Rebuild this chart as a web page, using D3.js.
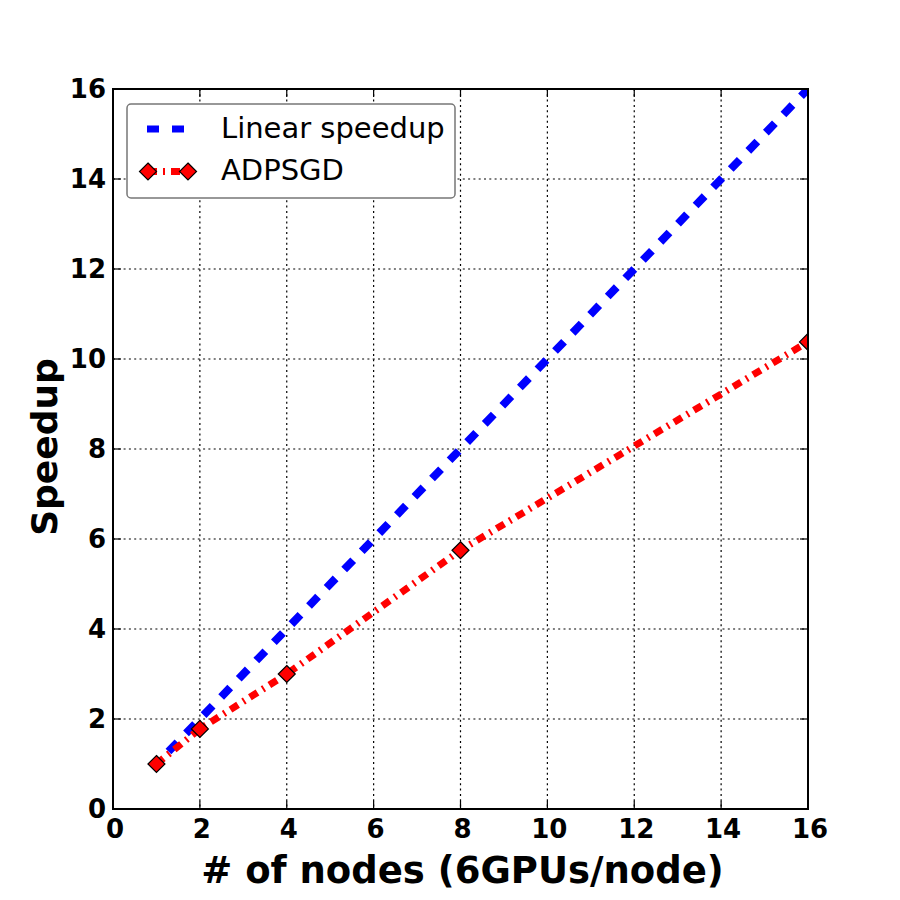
<!DOCTYPE html>
<html>
<head>
<meta charset="utf-8">
<script src="https://cdn.jsdelivr.net/npm/d3@7"></script>
<style>
  body { margin: 0; background: #fff; }
  svg { font-family: "DejaVu Sans", sans-serif; }
</style>
</head>
<body>
<div id="chart"></div>
<script>
// values
const nodes = [1, 2, 4, 8, 16]
const linearSpeedup = [1, 2, 4, 8, 16]
const adpsgd = [1, 1.78, 3.0, 5.75, 10.38]
const xTicks = [0, 2, 4, 6, 8, 10, 12, 14, 16]
const yTicks = [0, 2, 4, 6, 8, 10, 12, 14, 16]

const width = 900, height = 900
const margin = { left: 113, right: 92, top: 89, bottom: 91 }
const w = width - margin.left - margin.right
const h = height - margin.top - margin.bottom

const svg = d3.select("#chart").append("svg")
    .attr("width", width)
    .attr("height", height)

const view = svg.append("g")
    .attr("transform", "translate(" + margin.left + "," + margin.top + ")")

const x = d3.scaleLinear().domain([0, 16]).range([0, w])
const y = d3.scaleLinear().domain([0, 16]).range([h, 0])

svg.append("defs").append("clipPath").attr("id", "clip")
    .append("rect").attr("width", w).attr("height", h)

// grid
const grid = view.append("g")
grid.selectAll(".gx").data(xTicks.slice(1, -1)).enter().append("line")
    .attr("x1", d => x(d)).attr("x2", d => x(d))
    .attr("y1", 0).attr("y2", h)
grid.selectAll(".gy").data(yTicks.slice(1, -1)).enter().append("line")
    .attr("y1", d => y(d)).attr("y2", d => y(d))
    .attr("x1", 0).attr("x2", w)
grid.selectAll("line")
    .attr("stroke", "#000")
    .attr("stroke-width", 1.2)
    .attr("stroke-dasharray", "2,3.3")

const plot = view.append("g").attr("clip-path", "url(#clip)")

const line = d3.line().x(d => x(d[0])).y(d => y(d[1]))

// linear speedup
plot.append("path")
    .datum(nodes.map((n, i) => [n, linearSpeedup[i]]))
    .attr("d", line)
    .attr("fill", "none")
    .attr("stroke", "#0000ff")
    .attr("stroke-width", 8)
    .attr("stroke-dasharray", "13,12.3")
    .attr("stroke-dashoffset", 8)

// ADPSGD
const adData = nodes.map((n, i) => [n, adpsgd[i]])
plot.append("path")
    .datum(adData)
    .attr("d", line)
    .attr("fill", "none")
    .attr("stroke", "#ff0000")
    .attr("stroke-width", 7)
    .attr("stroke-dasharray", "9,6,2,6")

const diamond = "M0,-8.5L8.5,0L0,8.5L-8.5,0Z"
plot.selectAll(".mk").data(adData).enter().append("path")
    .attr("class", "mk")
    .attr("d", diamond)
    .attr("transform", d => "translate(" + x(d[0]) + "," + y(d[1]) + ")")
    .attr("fill", "#ff0000")
    .attr("stroke", "#000")
    .attr("stroke-width", 1.2)

// ticks (inward, all sides)
const ticks = view.append("g").attr("stroke", "#000").attr("stroke-width", 1.2)
xTicks.forEach(t => {
    ticks.append("line").attr("x1", x(t)).attr("x2", x(t)).attr("y1", h).attr("y2", h - 8)
    ticks.append("line").attr("x1", x(t)).attr("x2", x(t)).attr("y1", 0).attr("y2", 8)
})
yTicks.forEach(t => {
    ticks.append("line").attr("y1", y(t)).attr("y2", y(t)).attr("x1", 0).attr("x2", 8)
    ticks.append("line").attr("y1", y(t)).attr("y2", y(t)).attr("x1", w).attr("x2", w - 8)
})

// frame
view.append("rect")
    .attr("width", w).attr("height", h)
    .attr("fill", "none")
    .attr("stroke", "#000")
    .attr("stroke-width", 2)

// tick labels
view.selectAll(".xl").data(xTicks).enter().append("text")
    .attr("x", d => x(d) + 2)
    .attr("y", h + 29)
    .attr("text-anchor", "middle")
    .attr("font-size", 26)
    .attr("font-weight", "bold")
    .text(d => d)

view.selectAll(".yl").data(yTicks).enter().append("text")
    .attr("x", -7)
    .attr("y", d => y(d) + 9)
    .attr("text-anchor", "end")
    .attr("font-size", 26)
    .attr("font-weight", "bold")
    .text(d => d)

// axis titles
view.append("text")
    .attr("x", w / 2 + 2)
    .attr("y", h + 74)
    .attr("text-anchor", "middle")
    .attr("font-size", 37)
    .attr("font-weight", "bold")
    .text("# of nodes (6GPUs/node)")

view.append("text")
    .attr("transform", "rotate(-90)")
    .attr("x", -h / 2 + 2)
    .attr("y", -56)
    .attr("text-anchor", "middle")
    .attr("font-size", 36)
    .attr("font-weight", "bold")
    .text("Speedup")

// legend
const legend = svg.append("g")
legend.append("rect")
    .attr("x", 127).attr("y", 104)
    .attr("width", 328).attr("height", 94)
    .attr("rx", 4)
    .attr("fill", "#fff")
    .attr("stroke", "#777")
    .attr("stroke-width", 1.5)

legend.append("line")
    .attr("x1", 147).attr("x2", 190)
    .attr("y1", 129).attr("y2", 129)
    .attr("stroke", "#0000ff")
    .attr("stroke-width", 7)
    .attr("stroke-dasharray", "12,13")
legend.append("text")
    .attr("x", 221).attr("y", 138)
    .attr("font-size", 29)
    .text("Linear speedup")

legend.append("line")
    .attr("x1", 148).attr("x2", 188)
    .attr("y1", 171.5).attr("y2", 171.5)
    .attr("stroke", "#ff0000")
    .attr("stroke-width", 7)
    .attr("stroke-dasharray", "9,6,2,6")
legend.selectAll(".lm").data([148, 188]).enter().append("path")
    .attr("d", diamond)
    .attr("transform", d => "translate(" + d + ",171.5)")
    .attr("fill", "#ff0000")
    .attr("stroke", "#000")
    .attr("stroke-width", 1.2)
legend.append("text")
    .attr("x", 221).attr("y", 180)
    .attr("font-size", 29)
    .text("ADPSGD")
</script>
</body>
</html>
